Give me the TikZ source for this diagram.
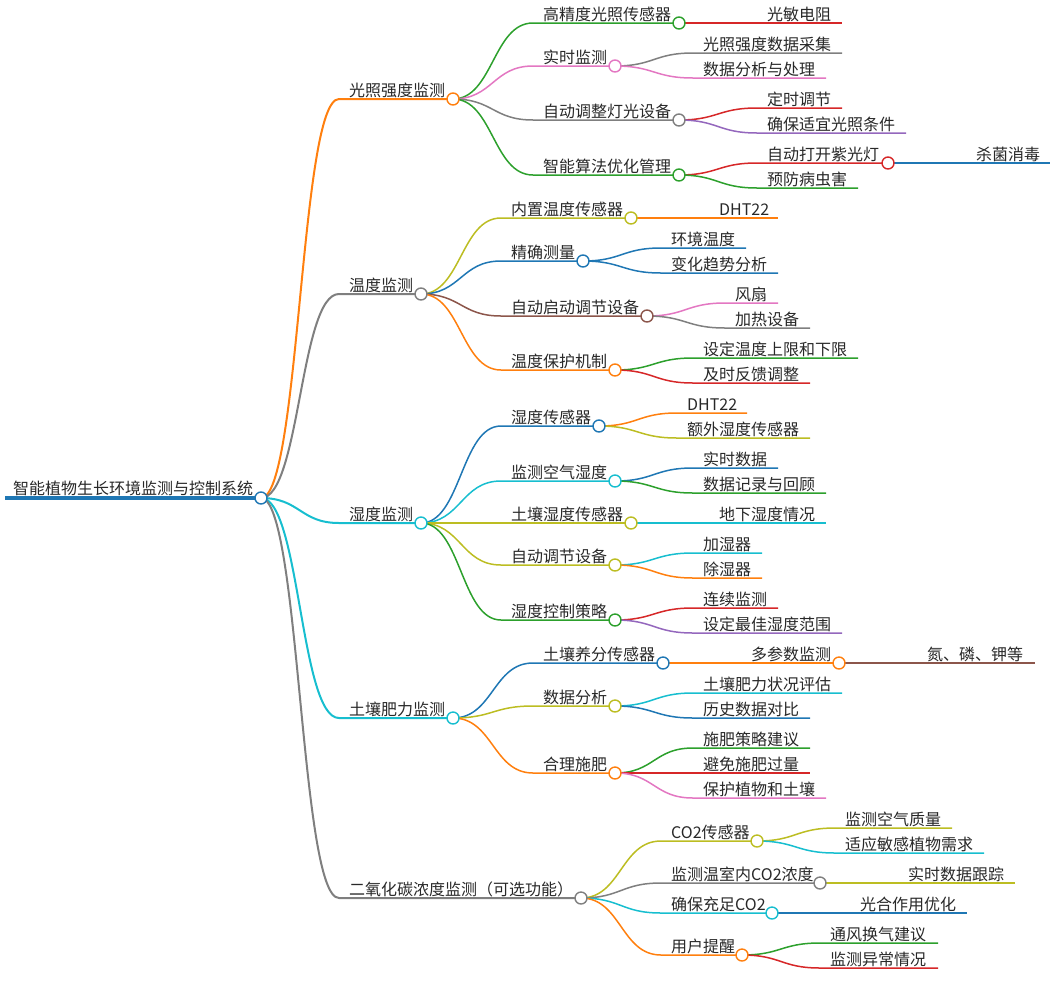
\documentclass[tikz,border=0pt]{standalone}
\usepackage{fontspec}
\setmainfont{Noto Sans CJK SC}
\usetikzlibrary{calc}
\pgfdeclarelayer{bg}
\pgfsetlayers{bg,main}
\definecolor{cBl}{RGB}{31,119,180}
\definecolor{cOr}{RGB}{255,127,14}
\definecolor{cGr}{RGB}{44,160,44}
\definecolor{cRd}{RGB}{214,39,40}
\definecolor{cPu}{RGB}{148,103,189}
\definecolor{cBr}{RGB}{140,86,75}
\definecolor{cPk}{RGB}{227,119,194}
\definecolor{cGy}{RGB}{127,127,127}
\definecolor{cOl}{RGB}{188,189,34}
\definecolor{cCy}{RGB}{23,190,207}
\definecolor{txt}{RGB}{40,40,40}
\tikzset{
 lbl/.style={anchor=base west, inner sep=0pt, text=txt, font=\fontsize{16}{18}\selectfont},
 dot/.style={circle, draw=#1, fill=white, line width=1.4pt, minimum size=12pt, inner sep=0pt},
 sbend/.style={to path={let \p1=(\tikztostart), \p2=(\tikztotarget) in .. controls ({(\x1+\x2)/2},\y1) and ({(\x1+\x2)/2},\y2) .. (\tikztotarget)}},
}
\def\bw{1.5pt}
% internal node: name, parent, line start x, y, circle x, colour, text
\newcommand{\mmI}[7]{%
 \node[dot=#6] (#1) at (#5,#4) {};
 \coordinate (#1s) at (#3,#4);
 \node[lbl] (#1t) at ({#3+10},{#4-3}) {#7};
 \begin{pgfonlayer}{bg}\draw[#6,line width=\bw] (#2.center) to[sbend] (#1s) -- (#1.center);\end{pgfonlayer}
}
% leaf node: name, parent, line start x, y, line end x, colour, text
\newcommand{\mmL}[7]{%
 \coordinate (#1) at (#5,#4);
 \coordinate (#1s) at (#3,#4);
 \node[lbl] (#1t) at ({#3+10},{#4-3}) {#7};
 \begin{pgfonlayer}{bg}\draw[#6,line width=\bw] (#2.center) to[sbend] (#1s) -- (#1);\end{pgfonlayer}
}
\begin{document}
\begin{tikzpicture}[x=1pt,y=-1pt]
\useasboundingbox (0,0) rectangle (1057,999);
% root
\node[dot=cBl] (R) at (261,498) {};
\coordinate (R0) at (5,498);
\node[lbl] (Rt) at (13,494) {智能植物生长环境监测与控制系统};
\begin{pgfonlayer}{bg}\draw[cBl,line width=3.5pt] (R0) -- (R.center);\end{pgfonlayer}
% level 1
\def\bw{2pt}
\mmI{A}{R}{339}{99}{453}{cOr}{光照强度监测}
\mmI{B}{R}{339}{294}{421}{cGy}{温度监测}
\mmI{C}{R}{339}{523}{421}{cCy}{湿度监测}
\mmI{D}{R}{339}{718}{453}{cCy}{土壤肥力监测}
\mmI{E}{R}{339}{898}{581}{cGy}{二氧化碳浓度监测（可选功能）}
\def\bw{1.5pt}
% 光照强度监测
\mmI{A1}{A}{533}{23}{679}{cGr}{高精度光照传感器}
\mmI{A2}{A}{533}{66}{615}{cPk}{实时监测}
\mmI{A3}{A}{533}{120}{679}{cGy}{自动调整灯光设备}
\mmI{A4}{A}{533}{175}{679}{cGr}{智能算法优化管理}
\mmL{A1a}{A1}{757}{23}{842}{cRd}{光敏电阻}
\mmL{A2a}{A2}{693}{53}{842}{cGy}{光照强度数据采集}
\mmL{A2b}{A2}{693}{78}{826}{cPk}{数据分析与处理}
\mmL{A3a}{A3}{757}{108}{842}{cRd}{定时调节}
\mmL{A3b}{A3}{757}{133}{906}{cPu}{确保适宜光照条件}
\mmI{A4a}{A4}{757}{163}{888}{cRd}{自动打开紫光灯}
\mmL{A4b}{A4}{757}{188}{858}{cGr}{预防病虫害}
\mmL{A4c}{A4a}{966}{163}{1050}{cBl}{杀菌消毒}
% 温度监测
\mmI{B1}{B}{501}{218}{631}{cOl}{内置温度传感器}
\mmI{B2}{B}{501}{261}{583}{cBl}{精确测量}
\mmI{B3}{B}{501}{316}{647}{cBr}{自动启动调节设备}
\mmI{B4}{B}{501}{370}{615}{cOr}{温度保护机制}
\mmL{B1a}{B1}{709}{218}{778}{cOr}{DHT22}
\mmL{B2a}{B2}{661}{248}{746}{cBl}{环境温度}
\mmL{B2b}{B2}{661}{273}{778}{cBl}{变化趋势分析}
\mmL{B3a}{B3}{725}{303}{778}{cPk}{风扇}
\mmL{B3b}{B3}{725}{328}{810}{cGy}{加热设备}
\mmL{B4a}{B4}{693}{358}{858}{cGr}{设定温度上限和下限}
\mmL{B4b}{B4}{693}{383}{810}{cRd}{及时反馈调整}
% 湿度监测
\mmI{C1}{C}{501}{426}{599}{cBl}{湿度传感器}
\mmI{C2}{C}{501}{481}{615}{cCy}{监测空气湿度}
\mmI{C3}{C}{501}{523}{631}{cOl}{土壤湿度传感器}
\mmI{C4}{C}{501}{565}{615}{cOl}{自动调节设备}
\mmI{C5}{C}{501}{620}{615}{cGr}{湿度控制策略}
\mmL{C1a}{C1}{677}{413}{747}{cOr}{DHT22}
\mmL{C1b}{C1}{677}{438}{810}{cOl}{额外湿度传感器}
\mmL{C2a}{C2}{693}{468}{778}{cBl}{实时数据}
\mmL{C2b}{C2}{693}{493}{826}{cGr}{数据记录与回顾}
\mmL{C3a}{C3}{709}{523}{826}{cCy}{地下湿度情况}
\mmL{C4a}{C4}{693}{553}{762}{cCy}{加湿器}
\mmL{C4b}{C4}{693}{578}{762}{cOr}{除湿器}
\mmL{C5a}{C5}{693}{608}{778}{cRd}{连续监测}
\mmL{C5b}{C5}{693}{633}{842}{cPu}{设定最佳湿度范围}
% 土壤肥力监测
\mmI{D1}{D}{533}{663}{663}{cBl}{土壤养分传感器}
\mmI{D2}{D}{533}{706}{615}{cOl}{数据分析}
\mmI{D3}{D}{533}{773}{615}{cOr}{合理施肥}
\mmI{D1a}{D1}{741}{663}{839}{cOr}{多参数监测}
\mmL{D1b}{D1a}{917}{663}{1035}{cBr}{氮、磷、钾等}
\mmL{D2a}{D2}{693}{693}{842}{cCy}{土壤肥力状况评估}
\mmL{D2b}{D2}{693}{718}{810}{cBl}{历史数据对比}
\mmL{D3a}{D3}{693}{748}{810}{cGr}{施肥策略建议}
\mmL{D3b}{D3}{693}{773}{810}{cRd}{避免施肥过量}
\mmL{D3c}{D3}{693}{798}{826}{cPk}{保护植物和土壤}
% 二氧化碳浓度监测
\mmI{E1}{E}{661}{841}{757}{cOl}{CO2传感器}
\mmI{E2}{E}{661}{883}{820}{cGy}{监测温室内CO2浓度}
\mmI{E3}{E}{661}{913}{772}{cCy}{确保充足CO2}
\mmI{E4}{E}{661}{955}{742}{cOr}{用户提醒}
\mmL{E1a}{E1}{835}{828}{952}{cOl}{监测空气质量}
\mmL{E1b}{E1}{835}{853}{984}{cCy}{适应敏感植物需求}
\mmL{E2a}{E2}{898}{883}{1015}{cOl}{实时数据跟踪}
\mmL{E3a}{E3}{850}{913}{967}{cBl}{光合作用优化}
\mmL{E4a}{E4}{820}{943}{938}{cGr}{通风换气建议}
\mmL{E4b}{E4}{820}{968}{938}{cRd}{监测异常情况}
\end{tikzpicture}
\end{document}
